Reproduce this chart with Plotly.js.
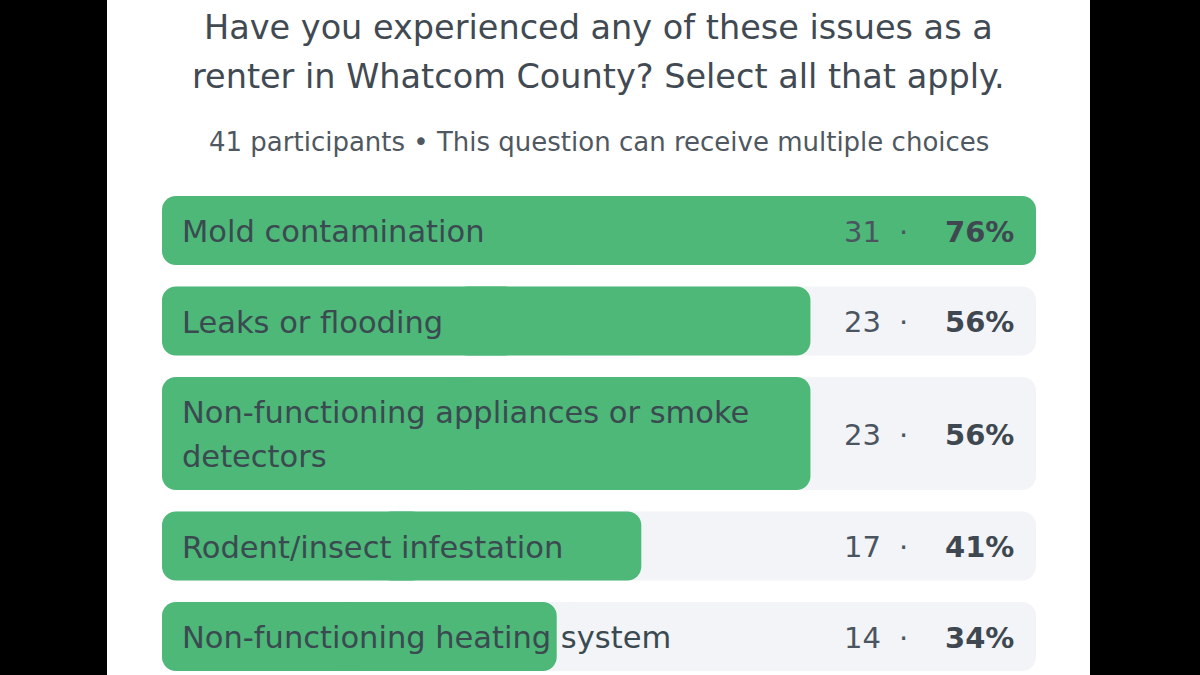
<!DOCTYPE html>
<html>
<head>
<meta charset="utf-8">
<script src="https://cdn.plot.ly/plotly-3.0.1.min.js"></script>
<style>
  html, body { margin: 0; padding: 0; background: #000; width: 1200px; height: 675px; overflow: hidden; }
  #chart { position: absolute; left: 107px; top: 0; width: 983px; height: 675px; background: #fff; }
</style>
</head>
<body>
<div id="chart"></div>
<script>
// ---- data ----
const titleLines = ["Have you experienced any of these issues as a", "renter in Whatcom County? Select all that apply."];
const participants = 41;
const subtitleText = participants + " participants \u2022 This question can receive multiple choices";
const options = [
  "Mold contamination",
  "Leaks or flooding",
  "Non-functioning appliances or smoke detectors",
  "Rodent/insect infestation",
  "Non-functioning heating system"
];
const counts = [31, 23, 23, 17, 14];
const percents = [76, 56, 56, 41, 34];

// ---- style / layout constants ----
const FONT = "DejaVu Sans, sans-serif";
const GREEN = "#4db878";
const TRACK = "#f2f4f7";
const LABEL_COLOR = "#3a4a50";
const W = 983, H = 675;
const ML = 55, MR = 54;
const ROW_TOP = 196, ROW_BASE_H = 69, LINE_EXTRA = 44, ROW_GAP = 21.5;
const WRAP_CHARS = 36;
const RADIUS = 14;

function wrap(s, n) {
  const words = s.split(" "); const lines = []; let cur = "";
  words.forEach(w => {
    const t = cur ? cur + " " + w : w;
    if (t.length > n && cur) { lines.push(cur); cur = w; } else cur = t;
  });
  if (cur) lines.push(cur);
  return lines;
}

const labelLines = options.map(o => wrap(o, WRAP_CHARS));
const heights = labelLines.map(l => ROW_BASE_H + LINE_EXTRA * (l.length - 1));
const centers = [];
let yy = ROW_TOP;
heights.forEach(h => { centers.push(yy + h / 2); yy += h + ROW_GAP; });

const maxCount = Math.max(...counts);

function halfBars(vals, color) {
  // two overlapping halves so that both ends get rounded corners
  const common = {
    type: "bar", orientation: "h", y: centers, width: heights,
    hoverinfo: "skip", showlegend: false,
    marker: { color: color, line: { width: 0 }, cornerradius: RADIUS }
  };
  return [
    Object.assign({}, common, { base: vals.map(v => v * 0.55), x: vals.map(v => -v * 0.55) }),
    Object.assign({}, common, { base: vals.map(v => v * 0.45), x: vals.map(v => v * 0.55) })
  ];
}

const traces = [
  ...halfBars(counts.map(() => maxCount), TRACK),
  ...halfBars(counts, GREEN)
];

const annotations = [];
const cx = (W / 2 - ML) / (W - ML - MR);
titleLines.forEach((t, i) => {
  annotations.push({
    xref: "paper", yref: "y", x: cx, y: 27 + i * 49,
    text: t, showarrow: false, xanchor: "center", yanchor: "middle",
    font: { family: FONT, size: 33.5, color: "#414a52" }
  });
});
annotations.push({
  xref: "paper", yref: "y", x: cx, y: 142,
  text: subtitleText, showarrow: false, xanchor: "center", yanchor: "middle",
  font: { family: FONT, size: 26, color: "#4f5860" }
});
options.forEach((o, i) => {
  const lines = labelLines[i];
  lines.forEach((ln, j) => {
    annotations.push({
      xref: "x", yref: "y", x: 0, y: centers[i] + 1 + (j - (lines.length - 1) / 2) * 44,
      xshift: 18, text: ln, showarrow: false, xanchor: "left", yanchor: "middle",
      font: { family: FONT, size: 30.5, color: LABEL_COLOR }
    });
  });
  annotations.push({
    xref: "paper", yref: "y", x: 1, xshift: -153, y: centers[i] + 1,
    text: String(counts[i]), showarrow: false, xanchor: "right", yanchor: "middle",
    font: { family: FONT, size: 29, color: "#4a5560" }
  });
  annotations.push({
    xref: "paper", yref: "y", x: 1, xshift: -133, y: centers[i] + 1,
    text: "\u00b7", showarrow: false, xanchor: "center", yanchor: "middle",
    font: { family: FONT, size: 29, color: "#4a5560" }
  });
  annotations.push({
    xref: "paper", yref: "y", x: 1, xshift: -20, y: centers[i] + 1,
    text: "<b>" + percents[i] + "%</b>", showarrow: false, xanchor: "right", yanchor: "middle",
    font: { family: FONT, size: 29, color: "#3f4850" }
  });
});

const layout = {
  width: W, height: H,
  margin: { l: ML, r: MR, t: 0, b: 0, pad: 0 },
  paper_bgcolor: "#ffffff", plot_bgcolor: "#ffffff",
  barmode: "overlay",
  xaxis: { range: [0, maxCount], visible: false, fixedrange: true },
  yaxis: { range: [H, 0], visible: false, fixedrange: true },
  annotations: annotations,
  showlegend: false
};

Plotly.newPlot("chart", traces, layout, { displayModeBar: false, staticPlot: true });
</script>
</body>
</html>
